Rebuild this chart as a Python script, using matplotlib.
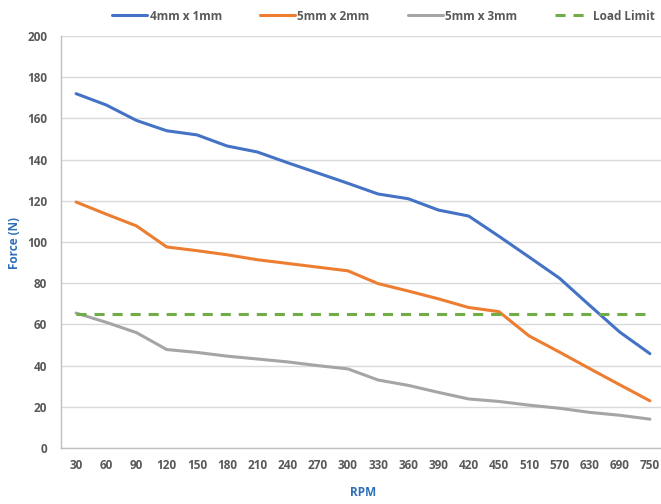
import matplotlib
matplotlib.use("Agg")
import matplotlib.pyplot as plt
import numpy as np

rpm = ["30", "60", "90", "120", "150", "180", "210", "240", "270", "300",
       "330", "360", "390", "420", "450", "510", "570", "630", "690", "750"]
s_4x1 = [172, 166.5, 159, 154, 152, 146.6, 143.7, 138.5, 133.5, 128.5,
         123.3, 121, 115.5, 112.6, 102.8, 92.7, 82.5, 69.3, 56.3, 45.8]
s_5x2 = [119.4, 113.5, 107.8, 97.6, 95.8, 93.8, 91.4, 89.6, 87.8, 86,
         79.8, 76.2, 72.4, 68.2, 66.2, 54.4, 46.6, 38.6, 30.7, 22.9]
s_5x3 = [65.5, 61, 56, 47.8, 46.4, 44.6, 43.2, 41.8, 40, 38.4,
         33, 30.4, 27, 23.8, 22.6, 20.8, 19.3, 17.3, 15.9, 14]
load_limit = [65] * len(rpm)
series_names = ["4mm x 1mm", "5mm x 2mm", "5mm x 3mm", "Load Limit"]

plt.rcParams['font.family'] = ['Open Sans', 'DejaVu Sans']

fig = plt.figure(figsize=(6.61, 5.04), dpi=100)
ax = fig.add_axes([61/661, 56/504, 604/661, 412/504])

x = np.arange(len(rpm))
lw = 2.2
ax.plot(x, s_4x1, color="#4472c4", lw=lw, label=series_names[0], solid_capstyle="round")
ax.plot(x, s_5x2, color="#ed7d31", lw=lw, label=series_names[1], solid_capstyle="round")
ax.plot(x, s_5x3, color="#a5a5a5", lw=lw, label=series_names[2], solid_capstyle="round")
ax.plot(x, load_limit, color="#70ad47", lw=lw, dashes=(3.3, 2.6), label=series_names[3])

ax.set_xlim(-0.5, len(rpm) - 0.5)
ax.set_ylim(0, 200)
ax.set_yticks(np.arange(0, 201, 20))
ax.set_xticks(x)
ax.set_xticklabels(rpm)
ax.grid(axis="y", color="#d9d9d9", lw=1)
ax.set_axisbelow(True)
for s in ["top", "right"]:
    ax.spines[s].set_visible(False)
for s in ["left", "bottom"]:
    ax.spines[s].set_color("#bfbfbf")
    ax.spines[s].set_linewidth(1)
ax.tick_params(axis="both", length=0, labelsize=8.5, labelcolor="#595959", pad=8)
ax.tick_params(axis="y", pad=10)
for lab in ax.get_xticklabels() + ax.get_yticklabels():
    lab.set_fontweight("bold")

fig.text(14/661, 1 - 243/504, "Force (N)", rotation=90, color="#2e6fb7", fontsize=8.5,
         fontweight="bold", ha="center", va="center")
fig.text(363/661, 1 - 492/504, "RPM", color="#2e6fb7", fontsize=8.5,
         fontweight="bold", ha="center", va="center")

leg = fig.legend(loc="center", bbox_to_anchor=(0.58, 0.968), ncol=4, frameon=False,
                 fontsize=8.5, handlelength=3.0, handletextpad=0.2, columnspacing=3.2)
for t in leg.get_texts():
    t.set_fontweight("bold")
    t.set_color("#595959")

fig.savefig("out.png", dpi=100)
